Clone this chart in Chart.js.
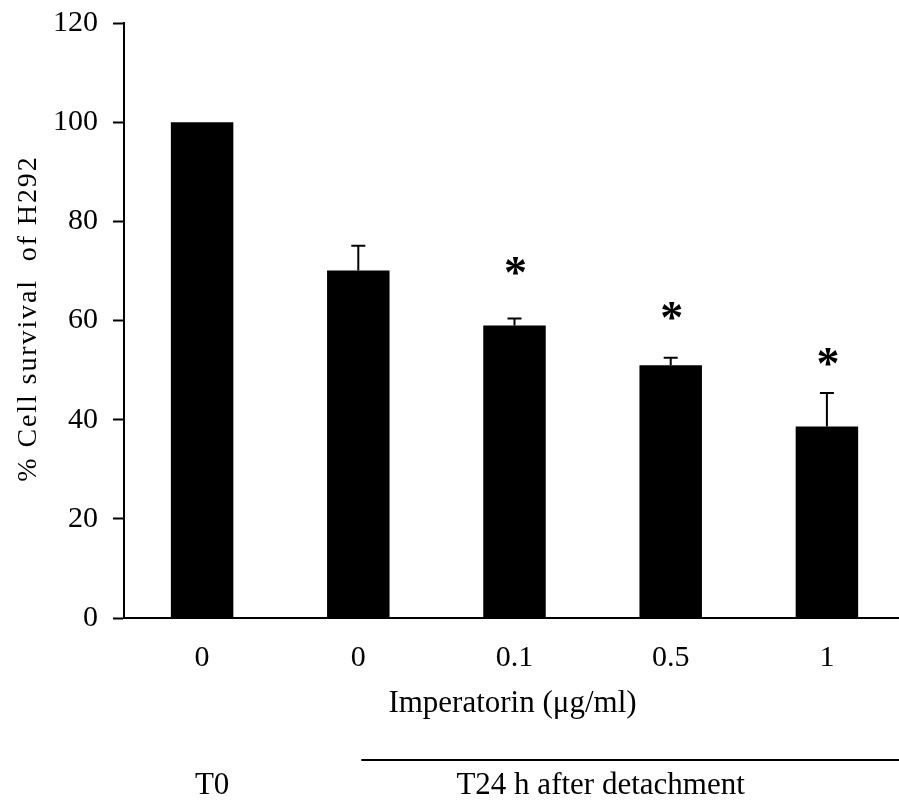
<!DOCTYPE html>
<html lang="en">
<head>
<meta charset="UTF-8">
<title>Cell survival of H292</title>
<script src="https://cdn.jsdelivr.net/npm/chart.js"></script>
<style>
  html, body { margin: 0; padding: 0; background: #fff; overflow: hidden; }
  canvas { display: block; }
</style>
</head>
<body>
<canvas id="survivalChart" width="905" height="801"></canvas>
<script>
// data
const doses = ['0', '0', '0.1', '0.5', '1'];
const survival = [100, 70.1, 59.0, 51.0, 38.6];
const errUpper = [0, 5.0, 1.4, 1.5, 6.8];
const starAt = [null, null, 71, 62, 52.6];   // where the * marks sit (y value)
const yTicks = [0, 20, 40, 60, 80, 100, 120];
const groupLabels = ['T0', 'T24 h after detachment'];
const groupFrom = [0, 1];
const groupTo = [0, 4];
const xTitle = 'Imperatorin (\u03bcg/ml)';
const yTitle = '% Cell survival  of H292';

const serif = "'Times New Roman', 'Liberation Serif', serif";

// error bars + asterisks
const errorBars = {
  id: 'errorBars',
  afterDatasetsDraw(chart) {
    const ctx = chart.ctx;
    const y = chart.scales.y;
    const meta = chart.getDatasetMeta(0);
    ctx.save();
    ctx.strokeStyle = '#000';
    ctx.lineWidth = 2;
    meta.data.forEach((bar, i) => {
      if (!errUpper[i]) return;
      const top = y.getPixelForValue(survival[i] + errUpper[i]);
      const base = y.getPixelForValue(survival[i]);
      ctx.beginPath();
      ctx.moveTo(bar.x, base);
      ctx.lineTo(bar.x, top);
      ctx.moveTo(bar.x - 7, top);
      ctx.lineTo(bar.x + 7, top);
      ctx.stroke();
    });
    ctx.fillStyle = '#000';
    ctx.font = 'bold 46px ' + serif;
    ctx.textAlign = 'center';
    ctx.textBaseline = 'alphabetic';
    const m = ctx.measureText('*');
    const mid = (m.actualBoundingBoxAscent - m.actualBoundingBoxDescent) / 2;
    meta.data.forEach((bar, i) => {
      if (starAt[i] == null) return;
      ctx.fillText('*', bar.x + 1, y.getPixelForValue(starAt[i]) + mid);
    });
    ctx.restore();
  }
};

// axis titles and the T0 / T24 grouping under the x axis
const axisText = {
  id: 'axisText',
  afterDraw(chart) {
    const ctx = chart.ctx;
    const x = chart.scales.x;
    const area = chart.chartArea;
    ctx.save();
    ctx.fillStyle = '#000';
    ctx.textAlign = 'center';
    ctx.textBaseline = 'middle';
    ctx.font = '31px ' + serif;
    ctx.fillText(xTitle, (area.left + area.right) / 2 - 2, 704);

    groupLabels.forEach((lab, g) => {
      const a = x.getPixelForValue(groupFrom[g]);
      const b = x.getPixelForValue(groupTo[g]);
      if (groupTo[g] > groupFrom[g]) {
        ctx.strokeStyle = '#000';
        ctx.lineWidth = 2;
        ctx.beginPath();
        ctx.moveTo(a + 3, 760);
        ctx.lineTo(chart.width, 760);
        ctx.stroke();
        ctx.fillText(lab, (a + b) / 2 + 8, 786);
      } else {
        ctx.fillText(lab, a + 10, 786);
      }
    });

    ctx.translate(29, (area.top + area.bottom) / 2 - 2);
    ctx.rotate(-Math.PI / 2);
    ctx.font = '28px ' + serif;
    ctx.letterSpacing = '1.9px';
    ctx.fillText(yTitle, 0, 0);
    ctx.restore();
  }
};

new Chart(document.getElementById('survivalChart'), {
  type: 'bar',
  data: {
    labels: doses,
    datasets: [{
      data: survival,
      backgroundColor: '#000',
      borderColor: '#000',
      borderWidth: 0,
      barPercentage: 0.4,
      categoryPercentage: 1.0
    }]
  },
  options: {
    responsive: false,
    animation: false,
    layout: { padding: { top: 23, right: 0, bottom: 0, left: 0 } },
    plugins: {
      legend: { display: false },
      tooltip: { enabled: false }
    },
    scales: {
      x: {
        grid: { drawOnChartArea: false, drawTicks: false },
        border: { display: true, color: '#000', width: 2 },
        ticks: {
          color: '#000',
          padding: 22,
          font: { family: serif, size: 30 }
        },
        afterFit(scale) { scale.height = 183; }
      },
      y: {
        min: 0,
        max: 120,
        afterBuildTicks(scale) { scale.ticks = yTicks.map(v => ({ value: v })); },
        grid: { drawOnChartArea: false, drawTicks: true, tickLength: 11, tickWidth: 2, tickColor: '#000' },
        border: { display: true, color: '#000', width: 2 },
        ticks: {
          color: '#000',
          padding: 15,
          font: { family: serif, size: 30 }
        },
        afterFit(scale) {
          scale.width = 124;
          scale.paddingTop = 0;
          scale.paddingBottom = 0;
        }
      }
    }
  },
  plugins: [errorBars, axisText]
});
</script>
</body>
</html>
